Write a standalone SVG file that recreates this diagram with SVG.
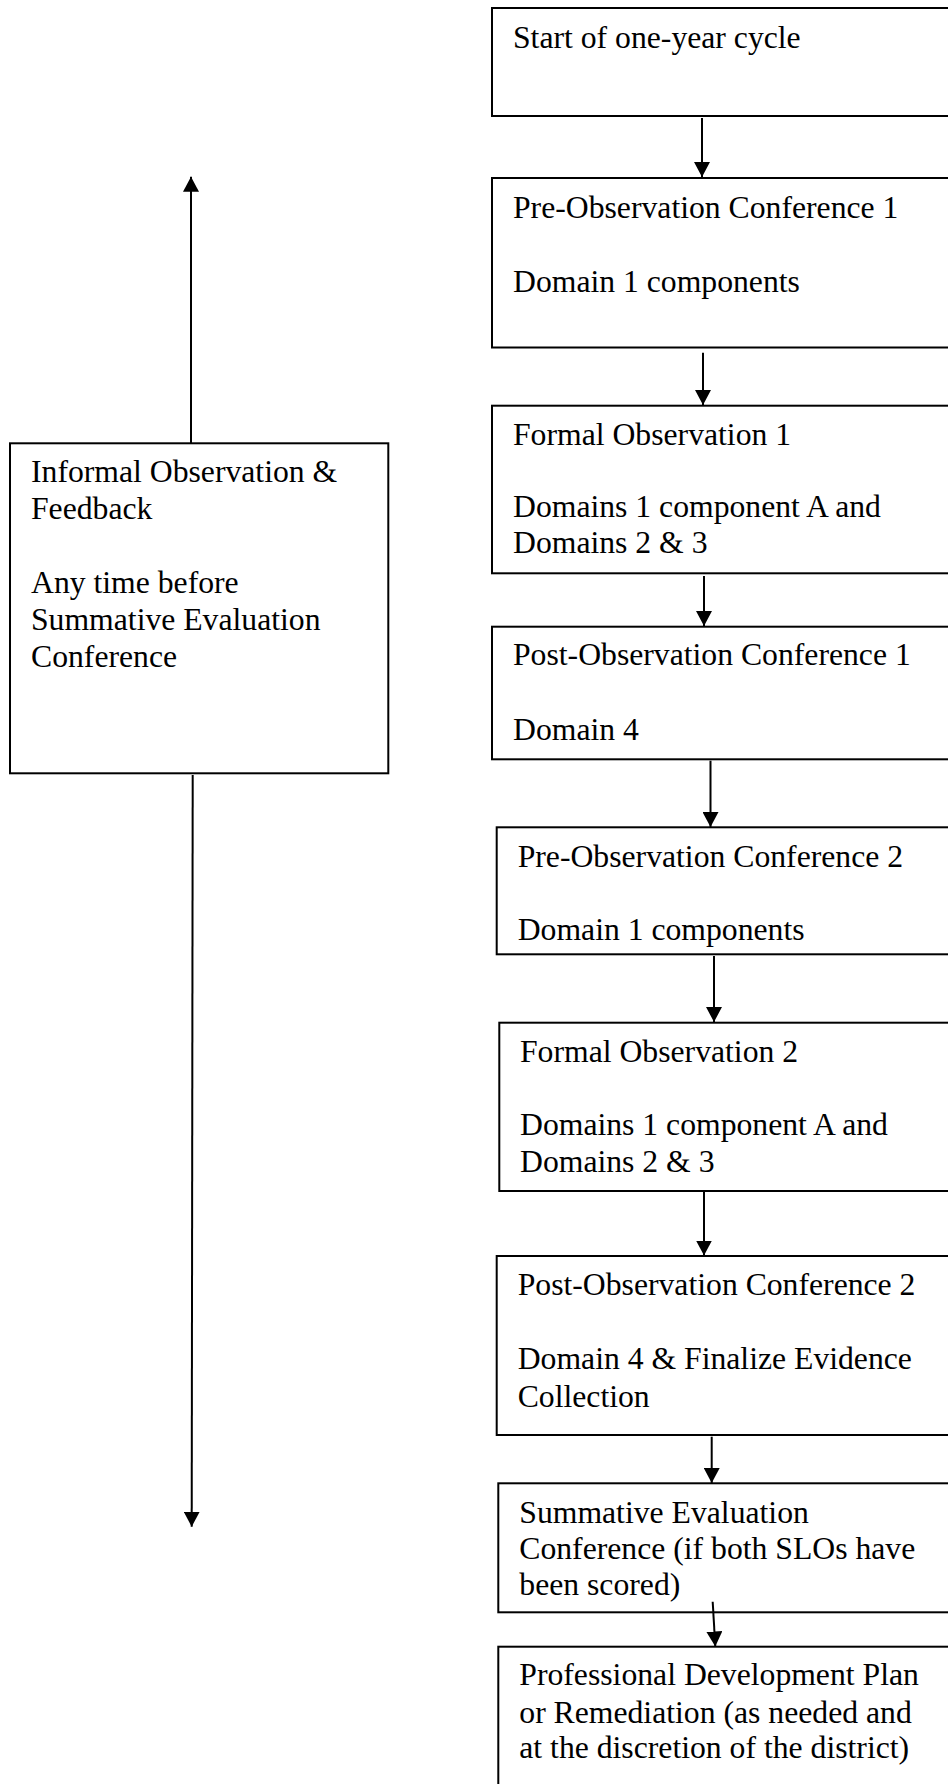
<svg xmlns="http://www.w3.org/2000/svg" width="948" height="1784" viewBox="0 0 948 1784">
<style>
.box{fill:#fff;stroke:#000;stroke-width:2}
.t{font-family:"Liberation Serif","Times New Roman",serif;font-size:31.7px;fill:#000}
.c{stroke:#000;stroke-width:2;fill:none}
</style>
<defs>
<marker id="ah" markerUnits="userSpaceOnUse" markerWidth="16" markerHeight="16" refX="15" refY="8" orient="auto">
<path d="M0,0 L15,8 L0,16 z" fill="#000"/>
</marker>
</defs>
<rect width="948" height="1784" fill="#fff"/>
<g id="n1"><rect class="box" x="492" y="8" width="470" height="108"/>
<text class="t" x="513" y="48">Start of one-year cycle</text></g>
<g id="n2"><rect class="box" x="492" y="178" width="470" height="169.5"/>
<text class="t" x="513" y="218">Pre-Observation Conference 1</text>
<text class="t" x="513" y="291.7">Domain 1 components</text></g>
<g id="n3"><rect class="box" x="492" y="405.7" width="470" height="167.6"/>
<text class="t" x="513" y="445">Formal Observation 1</text>
<text class="t" x="513" y="516.7">Domains 1 component A and</text>
<text class="t" x="513" y="553.3">Domains 2 &amp; 3</text></g>
<g id="n4"><rect class="box" x="492" y="626.7" width="470" height="132.6"/>
<text class="t" x="513" y="665">Post-Observation Conference 1</text>
<text class="t" x="513" y="740">Domain 4</text></g>
<g id="n5"><rect class="box" x="496.7" y="827.3" width="470" height="127"/>
<text class="t" x="517.7" y="866.7">Pre-Observation Conference 2</text>
<text class="t" x="517.7" y="940">Domain 1 components</text></g>
<g id="n6"><rect class="box" x="499.3" y="1022.7" width="470" height="168.3"/>
<text class="t" x="520" y="1061.7">Formal Observation 2</text>
<text class="t" x="520" y="1135">Domains 1 component A and</text>
<text class="t" x="520" y="1171.7">Domains 2 &amp; 3</text></g>
<g id="n7"><rect class="box" x="496.7" y="1256" width="470" height="179"/>
<text class="t" x="517.7" y="1295">Post-Observation Conference 2</text>
<text class="t" x="517.7" y="1369.3">Domain 4 &amp; Finalize Evidence</text>
<text class="t" x="517.7" y="1406.7">Collection</text></g>
<g id="n8"><rect class="box" x="498.3" y="1483.3" width="470" height="129"/>
<text class="t" x="519.3" y="1522.7">Summative Evaluation</text>
<text class="t" x="519.3" y="1559.3">Conference (if both SLOs have</text>
<text class="t" x="519.3" y="1595">been scored)</text></g>
<g id="n9"><rect class="box" x="498.3" y="1646.7" width="470" height="160"/>
<text class="t" x="519.3" y="1685">Professional Development Plan</text>
<text class="t" x="519.3" y="1722.7">or Remediation (as needed and</text>
<text class="t" x="519.3" y="1758.3">at the discretion of the district)</text></g>
<g id="n10"><rect class="box" x="10" y="443.3" width="378.3" height="330"/>
<text class="t" x="31" y="482.3">Informal Observation &amp;</text>
<text class="t" x="31" y="519.3">Feedback</text>
<text class="t" x="31" y="593.3">Any time before</text>
<text class="t" x="31" y="630">Summative Evaluation</text>
<text class="t" x="31" y="666.7">Conference</text></g>
<g id="connectors">
<line class="c" x1="702" y1="118" x2="702" y2="177" marker-end="url(#ah)"/>
<line class="c" x1="703" y1="352.7" x2="703" y2="405" marker-end="url(#ah)"/>
<line class="c" x1="704" y1="576" x2="704" y2="626" marker-end="url(#ah)"/>
<line class="c" x1="710.5" y1="760.7" x2="710.5" y2="827" marker-end="url(#ah)"/>
<line class="c" x1="714" y1="956" x2="714" y2="1022" marker-end="url(#ah)"/>
<line class="c" x1="704" y1="1192" x2="704" y2="1255.5" marker-end="url(#ah)"/>
<line class="c" x1="711.7" y1="1436.7" x2="711.7" y2="1483" marker-end="url(#ah)"/>
<line class="c" x1="712.7" y1="1601.7" x2="715.3" y2="1646.5" marker-end="url(#ah)"/>
<line class="c" x1="191" y1="443.3" x2="191" y2="176.7" marker-end="url(#ah)"/>
<line class="c" x1="192.7" y1="775" x2="191.7" y2="1526.7" marker-end="url(#ah)"/>
</g>
</svg>
